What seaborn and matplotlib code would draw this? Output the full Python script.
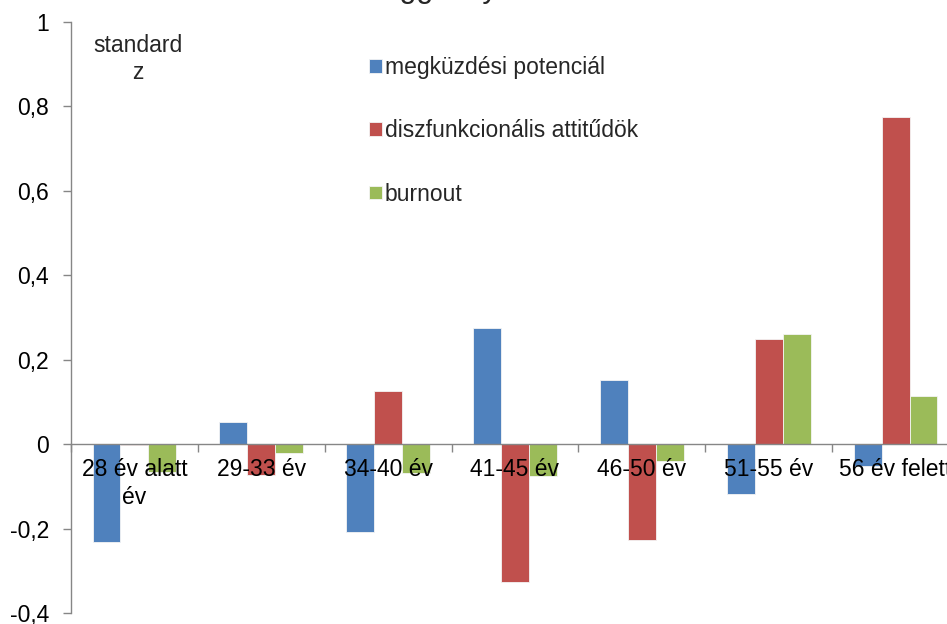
import matplotlib
matplotlib.use("Agg")
import matplotlib.pyplot as plt
from matplotlib.ticker import FuncFormatter, FixedLocator
import seaborn as sns
import pandas as pd

# Age groups and standardised (z) scores per variable
age_groups = ["28 év alatt\név", "29-33 év", "34-40 év", "41-45 év",
              "46-50 év", "51-55 év", "56 év felett"]
series_names = ["megküzdési potenciál", "diszfunkcionális attitűdök", "burnout"]
megkuzdesi = [-0.232, 0.053, -0.209, 0.276, 0.151, -0.118, -0.052]
diszfunkcionalis = [-0.002, -0.073, 0.126, -0.327, -0.227, 0.249, 0.775]
burnout = [-0.065, -0.021, -0.069, -0.076, -0.041, 0.260, 0.115]
y_ticks = [-0.4, -0.2, 0, 0.2, 0.4, 0.6, 0.8, 1]

colors = ["#4F81BD", "#C0504D", "#9BBB59"]

rows = []
for name, vals in zip(series_names, [megkuzdesi, diszfunkcionalis, burnout]):
    for g, v in zip(age_groups, vals):
        rows.append({"korcsoport": g, "változó": name, "z": v})
df = pd.DataFrame(rows)

sns.set_theme(style="white")
plt.rcParams["font.family"] = ["Liberation Sans", "DejaVu Sans"]

FS = 16.5
W, H = 947, 624
fig = plt.figure(figsize=(W / 100, H / 100), dpi=100)
# axes runs slightly past the right edge of the figure
ax = fig.add_axes([71 / W, 1 - 613 / H, (959 - 71) / W, (613 - 22) / H])

sns.barplot(data=df, x="korcsoport", y="z", hue="változó", order=age_groups,
            hue_order=series_names, palette=colors, width=0.66, ax=ax,
            edgecolor="#f4f4f4", linewidth=0.6, saturation=1)

ax.set_xlim(-0.5, 6.5)
ax.set_ylim(-0.4, 1.0)
ax.set_yticks(y_ticks)
ax.yaxis.set_major_formatter(FuncFormatter(
    lambda v, p: ("%g" % round(v, 1)).replace(".", ",")))
ax.set_xlabel("")
ax.set_ylabel("")

gray = "#868686"
for s in ["top", "right"]:
    ax.spines[s].set_visible(False)
ax.spines["left"].set_color(gray)
ax.spines["bottom"].set_color(gray)
ax.spines["bottom"].set_position(("data", 0))
ax.spines["left"].set_linewidth(1.0)
ax.spines["bottom"].set_linewidth(1.0)

ax.tick_params(axis="y", which="major", direction="out", length=6, width=1,
               color=gray, pad=10, labelsize=FS, labelcolor="black", left=True)
ax.tick_params(axis="x", which="major", length=0, pad=10, labelsize=FS,
               labelcolor="black")
ax.xaxis.set_minor_locator(FixedLocator([i - 0.5 for i in range(8)]))
ax.tick_params(axis="x", which="minor", direction="out", length=6, width=1,
               color=gray, bottom=True)
for lbl in ax.get_xticklabels():
    lbl.set_linespacing(1.3)
ax.xaxis.set_zorder(5)

# legend placed inside the plot area
sns.move_legend(ax, "upper left", bbox_to_anchor=(369 / W, 1 - 56 / H),
                bbox_transform=fig.transFigure, frameon=False, title=None,
                fontsize=FS, handlelength=0.55, handleheight=0.55,
                handletextpad=0.15, labelspacing=1.76, borderpad=0,
                borderaxespad=0)

fig.text(138 / W, 1 - 59 / H, "standard\nz", ha="center", va="center",
         fontsize=FS, linespacing=1.2)
fig.text(470 / W, 1 + 3 / H, "függvényében", ha="center", va="baseline",
         fontsize=22)

fig.savefig("out.png", dpi=100)
